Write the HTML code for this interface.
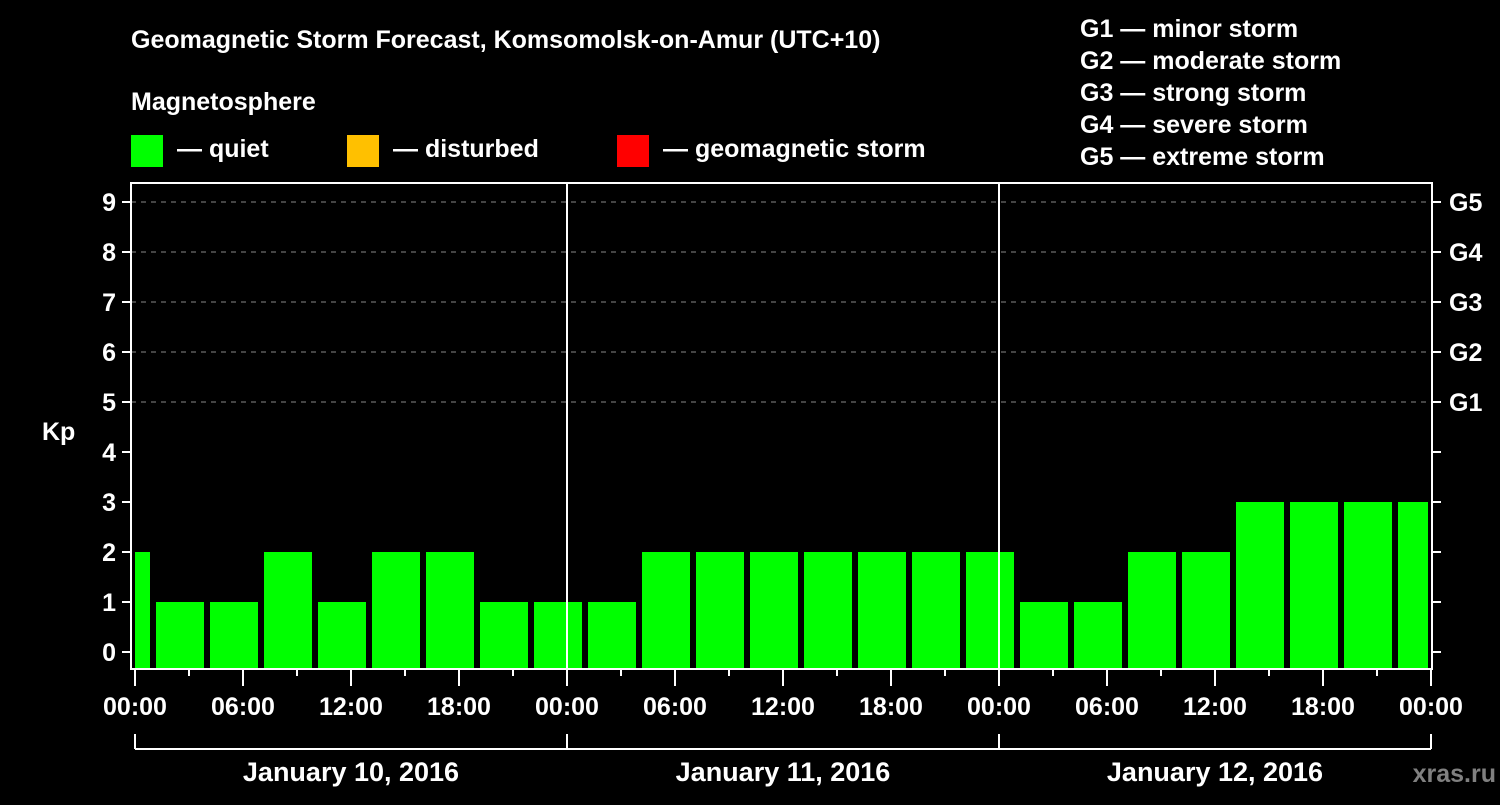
<!DOCTYPE html>
<html><head><meta charset="utf-8"><style>
body{margin:0;background:#000;width:1500px;height:800px;overflow:hidden}
svg text{font-family:"Liberation Sans",sans-serif;font-weight:bold;fill:#fff}
</style></head><body>
<svg id="c" width="1500" height="800">
<text x="131" y="48" font-size="25">Geomagnetic Storm Forecast, Komsomolsk-on-Amur (UTC+10)</text>
<text x="131" y="110" font-size="25">Magnetosphere</text>
<rect x="131" y="135" width="32" height="32" fill="#00ff00"/>
<text x="177" y="157" font-size="25">— quiet</text>
<rect x="347" y="135" width="32" height="32" fill="#ffc000"/>
<text x="393" y="157" font-size="25">— disturbed</text>
<rect x="617" y="135" width="32" height="32" fill="#ff0000"/>
<text x="663" y="157" font-size="25">— geomagnetic storm</text>
<g font-size="25">
<text x="1080" y="37">G1 — minor storm</text>
<text x="1080" y="69">G2 — moderate storm</text>
<text x="1080" y="101">G3 — strong storm</text>
<text x="1080" y="133">G4 — severe storm</text>
<text x="1080" y="165">G5 — extreme storm</text>
</g>
<text x="42" y="440" font-size="25">Kp</text>
<text x="1496" y="782" font-size="25" text-anchor="end" style="fill:#808080">xras.ru</text>
<g id="grid"></g><g id="bars"></g><g id="axes"></g>
</svg>
<script>
const kpValues=[2,1,1,2,1,2,2,1,1,1,2,2,2,2,2,2,2,1,1,2,2,3,3,3,3];
const yTicks=[0,1,2,3,4,5,6,7,8,9];
const gLabels=["G1","G2","G3","G4","G5"];
const gLevels=[5,6,7,8,9];
const xLabels=["00:00","06:00","12:00","18:00","00:00","06:00","12:00","18:00","00:00","06:00","12:00","18:00","00:00"];
const dayLabels=["January 10, 2016","January 11, 2016","January 12, 2016"];
const L=131,R=1432,T=183,B=669,X0=135,HR=18;
const y=v=>652-50*v, x=h=>X0+HR*h;
const NS="http://www.w3.org/2000/svg";
function mk(p,t,a){const e=document.createElementNS(NS,t);for(const k in a)e.setAttribute(k,a[k]);p.appendChild(e);return e;}
const grid=document.getElementById('grid'),bars=document.getElementById('bars'),axes=document.getElementById('axes');
gLevels.forEach((v,i)=>{
 const l=mk(grid,'line',{x1:L,x2:R,y1:y(v),y2:y(v),stroke:'#888','stroke-dasharray':'5,5','stroke-width':1});
 
 
 const t=mk(axes,'text',{x:1449,y:y(v)+9,'font-size':25});t.textContent=gLabels[i];
 
 
});
kpValues.forEach((v,k)=>{
 let x1=x(3*k-2)+3,x2=x(3*k+1)-3;
 x1=Math.max(x1,X0);x2=Math.min(x2,R-4);
 const r=mk(bars,'rect',{x:x1,y:y(v),width:x2-x1,height:B-1-y(v),fill:'#00ff00'});
 
 
});
const f=mk(axes,'rect',{x:L,y:T,width:R-L,height:B-T,fill:'none',stroke:'#fff','stroke-width':2});


[1,2].forEach(d=>{const l=mk(axes,'line',{x1:x(24*d),x2:x(24*d),y1:T,y2:B,stroke:'#fff','stroke-width':2});
 
 });
yTicks.forEach(v=>{
 mk(axes,'line',{x1:122,x2:L,y1:y(v),y2:y(v),stroke:'#fff','stroke-width':2});
 mk(axes,'line',{x1:R,x2:1441,y1:y(v),y2:y(v),stroke:'#fff','stroke-width':2});
 const t=mk(axes,'text',{x:116,y:y(v)+9,'font-size':25,'text-anchor':'end'});t.textContent=v;
 
 
});
for(let h=0;h<=72;h+=3){mk(axes,'line',{x1:x(h),x2:x(h),y1:B,y2:B+(h%6?7:17),stroke:'#fff','stroke-width':2});}
xLabels.forEach((s,i)=>{const t=mk(axes,'text',{x:x(6*i),y:715,'font-size':25,'text-anchor':'middle'});t.textContent=s;
 
 });
mk(axes,'line',{x1:x(0),x2:x(72),y1:749,y2:749,stroke:'#fff','stroke-width':2});
for(let d=0;d<=3;d++)mk(axes,'line',{x1:x(24*d),x2:x(24*d),y1:734,y2:749,stroke:'#fff','stroke-width':2});
dayLabels.forEach((s,i)=>{const t=mk(axes,'text',{x:x(24*i+12),y:781,'font-size':27,'text-anchor':'middle'});t.textContent=s;
 
 });
</script>
</body></html>
